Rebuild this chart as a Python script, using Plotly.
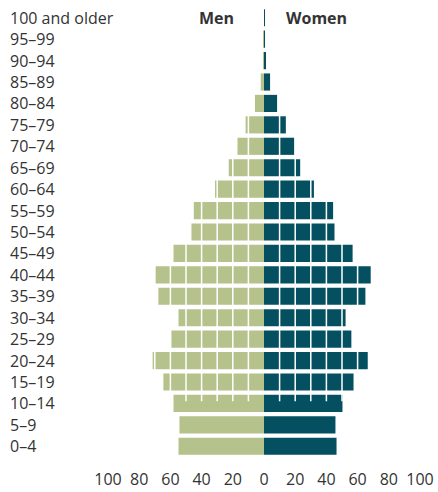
import plotly.graph_objects as go

age_groups = ["0–4", "5–9", "10–14", "15–19", "20–24", "25–29", "30–34", "35–39",
              "40–44", "45–49", "50–54", "55–59", "60–64", "65–69", "70–74", "75–79",
              "80–84", "85–89", "90–94", "95–99", "100 and older"]
men = [54.8, 54.2, 58.0, 64.5, 71.4, 59.4, 54.8, 67.7, 69.7, 58.0, 46.5, 45.0,
       31.4, 22.6, 17.0, 11.8, 5.8, 2.1, 0.3, 0.1, 0.0]
women = [46.5, 45.8, 50.3, 57.4, 66.5, 56.0, 52.3, 65.0, 68.4, 56.8, 45.2, 44.3,
         32.0, 23.2, 19.4, 14.0, 8.4, 3.9, 0.8, 0.6, 0.5]
x_tick_vals = [-100, -80, -60, -40, -20, 0, 20, 40, 60, 80, 100]
x_tick_text = ["100", "80", "60", "40", "20", "0", "20", "40", "60", "80", "100"]
grid_vals = [-80, -70, -60, -50, -40, -30, -20, -10, 10, 20, 30, 40, 50, 60, 70, 80]

MEN_COLOR = "#b5c28b"
WOMEN_COLOR = "#045061"
TEXT = "#333333"
FONT = "Open Sans"

fig = go.Figure()
fig.add_trace(go.Bar(y=age_groups, x=[-v for v in men], orientation="h",
                     marker=dict(color=MEN_COLOR, line=dict(width=0)), name="Men"))
fig.add_trace(go.Bar(y=age_groups, x=women, orientation="h",
                     marker=dict(color=WOMEN_COLOR, line=dict(width=0)), name="Women"))

shapes = []
for g in grid_vals:
    shapes.append(dict(type="line", xref="x", yref="y", x0=g, x1=g, y0=2.1, y1=20.5,
                       line=dict(color="white", width=1.5), layer="above"))

annotations = []
for lab in age_groups:
    annotations.append(dict(xref="paper", yref="y", x=-0.3205, y=lab, text=lab,
                            xanchor="left", yanchor="middle", showarrow=False,
                            font=dict(family=FONT, size=16, color=TEXT)))
annotations.append(dict(xref="x", yref="y", x=-18, y="100 and older", text="<b>Men</b>",
                        xanchor="right", yanchor="middle", showarrow=False,
                        font=dict(family=FONT, size=16, color=TEXT)))
annotations.append(dict(xref="x", yref="y", x=12.8, y="100 and older", text="<b>Women</b>",
                        xanchor="left", yanchor="middle", showarrow=False,
                        font=dict(family=FONT, size=16, color=TEXT)))

fig.update_layout(
    width=438, height=492,
    margin=dict(l=108, r=18, t=7, b=35, autoexpand=False),
    paper_bgcolor="white", plot_bgcolor="white",
    barmode="relative", bargap=0.2,
    showlegend=False,
    shapes=shapes, annotations=annotations,
    font=dict(family=FONT, size=16, color=TEXT),
    xaxis=dict(range=[-100, 100], tickvals=x_tick_vals, ticktext=x_tick_text,
               showgrid=False, zeroline=False, showline=False, ticks="",
               tickfont=dict(family=FONT, size=16, color=TEXT), fixedrange=True,
               ticklabelstandoff=11, automargin=False),
    yaxis=dict(type="category", categoryorder="array", categoryarray=age_groups,
               range=[-0.5, 20.5], showticklabels=False, showgrid=False,
               zeroline=False, showline=False, ticks="", fixedrange=True,
               automargin=False),
)

fig.write_html(
    "out.html",
    config={"displayModeBar": False},
    post_script="document.documentElement.style.overflow='hidden';"
                "document.body.style.margin='0';document.body.style.overflow='hidden';",
)
